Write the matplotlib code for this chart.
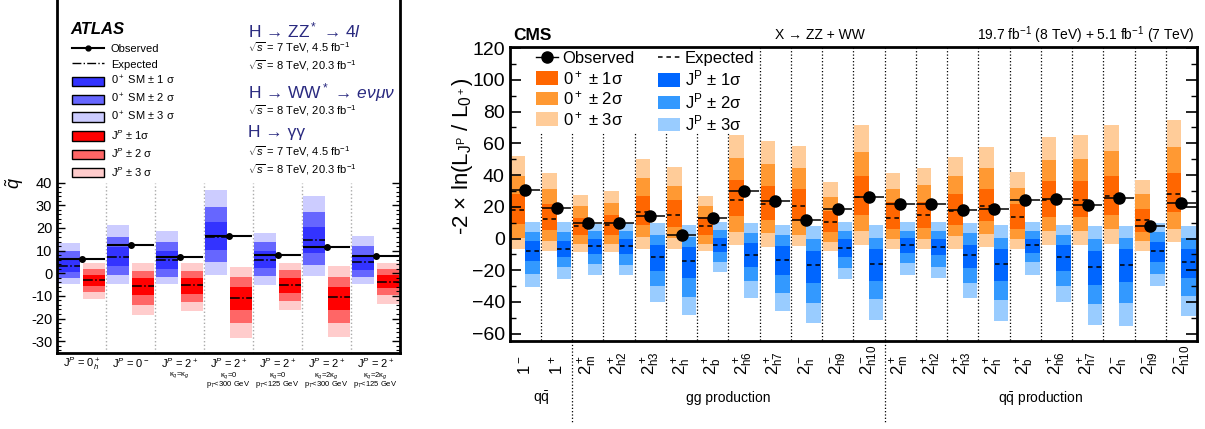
import matplotlib
matplotlib.use('Agg')
import matplotlib.pyplot as plt
import numpy as np
from matplotlib.lines import Line2D
from matplotlib.patches import Patch

plt.rcParams['font.family'] = ['Liberation Sans', 'DejaVu Sans']
plt.rcParams['mathtext.fontset'] = 'custom'
plt.rcParams['mathtext.rm'] = 'Liberation Sans'
plt.rcParams['mathtext.it'] = 'Liberation Sans:italic'
plt.rcParams['mathtext.bf'] = 'Liberation Sans:bold'

# ---------------- ATLAS data ----------------
atlas_labels = [r'J$^P$ = 0$^+_h$', r'J$^P$ = 0$^-$', r'J$^P$ = 2$^+$', r'J$^P$ = 2$^+$',
                r'J$^P$ = 2$^+$', r'J$^P$ = 2$^+$', r'J$^P$ = 2$^+$']
atlas_sub1 = ['', '', r'κ$_q$=κ$_g$', r'κ$_q$=0', r'κ$_q$=0', r'κ$_q$=2κ$_g$', r'κ$_q$=2κ$_g$']
atlas_sub2 = ['', '', '', r'p$_T$<300 GeV', r'p$_T$<125 GeV', r'p$_T$<300 GeV', r'p$_T$<125 GeV']

# SM (0+) bands: 3lo, 2lo, 1lo, 1hi, 2hi, 3hi
sm_3lo = [-4.7, -4.7, -4.6, -0.7, -5.1, -1.2, -4.6]
sm_2lo = [-2.1, -0.7, -1.6, 5.0, -1.2, 3.7, -1.6]
sm_1lo = [0.7, 3.2, 1.9, 10.3, 2.4, 9.0, 1.5]
sm_1hi = [6.6, 11.5, 10.0, 22.4, 9.9, 20.4, 8.1]
sm_2hi = [9.9, 16.0, 13.8, 29.3, 13.8, 27.1, 12.1]
sm_3hi = [13.4, 21.3, 18.7, 36.8, 17.8, 34.1, 16.5]
sm_exp = [3.3, 7.2, 5.9, 16.2, 5.9, 14.6, 4.9]
# alternative JP bands
jp_3lo = [-11.3, -18.4, -16.5, -28.4, -16.2, -28.1, -13.5]
jp_2lo = [-8.4, -14.0, -12.8, -21.9, -12.2, -21.9, -9.6]
jp_1lo = [-5.6, -9.6, -9.1, -16.2, -8.7, -16.2, -6.5]
jp_1hi = [-0.7, -1.9, -1.9, -6.0, -2.1, -6.0, -0.7]
jp_2hi = [1.8, 1.0, 1.0, -1.6, 1.5, -1.6, 1.9]
jp_3hi = [4.6, 4.6, 4.6, 2.8, 4.6, 3.2, 4.6]
jp_exp = [-2.8, -5.7, -5.3, -10.9, -5.0, -10.7, -3.7]
atlas_obs = [6.3, 12.4, 7.1, 16.5, 8.1, 11.5, 7.8]

# ---------------- CMS data ----------------
cms_labels = [r'$1^-$', r'$1^+$',
              r'$2^+_\mathrm{m}$', r'$2^+_\mathrm{h2}$', r'$2^+_\mathrm{h3}$', r'$2^+_\mathrm{h}$',
              r'$2^+_\mathrm{b}$', r'$2^+_\mathrm{h6}$', r'$2^+_\mathrm{h7}$', r'$2^-_\mathrm{h}$',
              r'$2^-_\mathrm{h9}$', r'$2^-_\mathrm{h10}$',
              r'$2^+_\mathrm{m}$', r'$2^+_\mathrm{h2}$', r'$2^+_\mathrm{h3}$', r'$2^+_\mathrm{h}$',
              r'$2^+_\mathrm{b}$', r'$2^+_\mathrm{h6}$', r'$2^+_\mathrm{h7}$', r'$2^-_\mathrm{h}$',
              r'$2^-_\mathrm{h9}$', r'$2^-_\mathrm{h10}$']
o_3lo = [-6.5, -8.0, -8.6, -8.6, -6.7, -6.5, -8.0, -4.2, -5.5, -4.8, -8.0, -3.8,
         -6.9, -6.9, -6.9, -5.5, -6.9, -4.2, -4.2, -3.2, -8.0, -2.5]
o_2lo = [0.4, -1.7, -3.2, -3.2, 0.8, 0.4, -3.4, 4.4, 3.2, 2.5, -2.3, 5.0,
         0.0, 0.0, 1.3, 2.9, 0.0, 4.6, 4.6, 5.7, -1.7, 6.3]
o_1lo = [9.3, 5.3, 1.9, 2.5, 8.8, 7.4, 2.1, 13.9, 11.4, 10.9, 3.8, 15.1,
         6.3, 6.9, 8.8, 10.9, 6.1, 13.5, 13.5, 15.1, 4.2, 16.4]
o_1hi = [27.8, 21.5, 13.0, 15.1, 26.5, 24.0, 13.5, 36.6, 33.4, 31.5, 17.2, 39.7,
         23.1, 23.1, 27.8, 31.5, 22.0, 36.0, 36.0, 39.7, 18.9, 41.6]
o_2hi = [39.3, 30.9, 20.2, 22.1, 38.1, 33.4, 20.4, 50.7, 46.7, 44.2, 25.9, 54.3,
         30.9, 33.6, 39.1, 44.2, 32.0, 49.2, 49.8, 54.9, 27.8, 57.4]
o_3hi = [51.7, 41.6, 27.3, 29.7, 49.8, 45.0, 27.1, 65.0, 61.2, 58.0, 35.3, 71.3,
         41.0, 44.2, 51.1, 57.4, 42.0, 63.7, 65.0, 71.3, 36.6, 74.4]
o_exp = [17.9, 12.6, 7.6, 8.8, 16.8, 15.1, 7.6, 24.4, 21.9, 20.4, 10.7, 26.3,
         13.0, 15.1, 17.5, 20.8, 13.8, 24.0, 24.0, 26.7, 11.4, 28.2]
b_3lo = [-30.7, -25.7, -22.7, -23.3, -40.2, -48.4, -21.2, -37.6, -45.8, -53.4, -25.7, -51.1,
         -23.1, -25.0, -37.6, -52.2, -23.3, -40.2, -54.3, -54.9, -29.7, -48.6]
b_2lo = [-22.1, -18.1, -15.8, -16.4, -29.7, -36.6, -14.9, -26.9, -34.1, -40.6, -18.5, -37.9,
         -15.6, -17.7, -28.0, -38.9, -14.9, -29.7, -41.0, -40.4, -22.1, -36.0]
b_1lo = [-14.3, -11.8, -10.0, -10.0, -20.2, -24.8, -8.6, -18.1, -23.3, -27.8, -11.8, -26.5,
         -9.0, -10.7, -18.9, -26.9, -9.0, -20.2, -29.0, -27.5, -14.5, -25.2]
b_1hi = [-1.7, -1.7, 0.0, 0.0, -3.8, -5.5, 0.4, -2.9, -5.0, -8.0, -0.6, -6.9,
         0.4, -0.2, -3.8, -6.9, 0.0, -4.4, -8.0, -6.9, -1.9, -6.9]
b_2hi = [4.0, 4.0, 4.8, 5.0, 2.5, 0.8, 5.3, 3.4, 1.9, 0.0, 4.6, 0.6,
         4.6, 4.6, 3.2, 0.6, 5.0, 1.9, 0.0, 0.6, 3.8, 0.6]
b_3hi = [10.3, 10.3, 9.0, 9.9, 9.5, 8.2, 10.3, 9.5, 8.8, 7.6, 10.5, 8.2,
         10.3, 10.3, 9.5, 8.2, 10.3, 8.8, 7.6, 7.6, 9.9, 7.6]
b_exp = [-7.6, -6.3, -4.5, -4.8, -11.6, -14.3, -4.0, -10.1, -13.5, -16.8, -5.9, -15.8,
         -3.8, -5.3, -10.7, -16.2, -3.8, -11.8, -17.9, -16.6, -8.0, -15.1]
cms_obs = [30.3, 19.3, 9.9, 9.5, 14.1, 2.1, 12.8, 30.1, 23.6, 11.4, 18.3, 25.9,
           21.5, 21.7, 18.1, 18.7, 24.5, 24.6, 21.0, 25.7, 8.0, 22.5]

W, H = 1205, 429
fig = plt.figure(figsize=(W / 100, H / 100), dpi=100)


def px(x, y):
    return x / W, 1 - y / H


# ================= ATLAS panel =================
ax1 = fig.add_axes([57 / W, 1 - 353 / H, 343 / W, 356 / H])
sm_cols = ['#ccccff', '#6666ff', '#3333ff']
jp_cols = ['#ffcccc', '#ff6666', '#ff0000']
n1 = len(atlas_obs)
x1 = np.arange(n1)
for lo, hi, c in zip([sm_3lo, sm_2lo, sm_1lo], [sm_3hi, sm_2hi, sm_1hi], sm_cols):
    ax1.bar(x1 + 0.02, np.array(hi) - np.array(lo), bottom=lo, width=0.45,
            align='edge', color=c, lw=0, zorder=1)
for lo, hi, c in zip([jp_3lo, jp_2lo, jp_1lo], [jp_3hi, jp_2hi, jp_1hi], jp_cols):
    ax1.bar(x1 + 0.53, np.array(hi) - np.array(lo), bottom=lo, width=0.45,
            align='edge', color=c, lw=0, zorder=1)
ax1.hlines(sm_exp, x1 + 0.02, x1 + 0.47, colors='k', linestyles='-.', lw=1.1, zorder=3)
ax1.hlines(jp_exp, x1 + 0.53, x1 + 0.98, colors='k', linestyles='-.', lw=1.1, zorder=3)
ax1.hlines(atlas_obs, x1 + 0.03, x1 + 0.97, colors='k', lw=1.5, zorder=4)
ax1.plot(x1 + 0.5, atlas_obs, 'o', color='k', ms=4, zorder=5)
ax1.vlines(np.arange(1, n1), -40, 40, colors='#aaaaaa', linestyles=':', lw=1, zorder=0)

ax1.set_xlim(0, n1)
ax1.set_ylim(-35.2, 121.9)
ax1.set_xticks([])
ax1.set_yticks(np.arange(-30, 41, 10))
ax1.set_yticks(np.arange(-34, 41, 2), minor=True)
ax1.tick_params(axis='y', which='both', direction='in', right=True, labelsize=10.5)
ax1.tick_params(axis='y', which='major', length=6, width=1)
ax1.tick_params(axis='y', which='minor', length=3, width=0.8)
for s in ax1.spines.values():
    s.set_linewidth(2)
ax1.yaxis.get_major_ticks()
for t in ax1.get_yticklabels():
    t.set_visible(True)
# hide tick labels above 40
ax1.set_yticklabels([str(v) for v in range(-30, 41, 10)])

for i in range(n1):
    ax1.annotate(atlas_labels[i], xy=(i + 0.5, 0), xycoords=('data', 'axes fraction'),
                 xytext=(0, -7.5), textcoords='offset points', ha='center', va='center', fontsize=8)
    if atlas_sub1[i]:
        ax1.annotate(atlas_sub1[i], xy=(i + 0.5, 0), xycoords=('data', 'axes fraction'),
                     xytext=(0, -16), textcoords='offset points', ha='center', va='center', fontsize=5.5)
    if atlas_sub2[i]:
        ax1.annotate(atlas_sub2[i], xy=(i + 0.5, 0), xycoords=('data', 'axes fraction'),
                     xytext=(0, -23), textcoords='offset points', ha='center', va='center', fontsize=5.5)

fig.text(*px(15, 183), r'$\tilde{q}$', rotation=90, ha='center', va='center', fontsize=13)
fig.text(*px(70, 30), 'ATLAS', fontsize=12, fontweight='bold', fontstyle='italic', va='center')

h_atlas = [Line2D([], [], color='k', lw=1.5, marker='o', ms=3.5),
           Line2D([], [], color='k', lw=1, ls='-.'),
           Patch(facecolor=sm_cols[2], edgecolor='k', lw=1),
           Patch(facecolor=sm_cols[1], edgecolor='k', lw=1),
           Patch(facecolor=sm_cols[0], edgecolor='k', lw=1),
           Patch(facecolor=jp_cols[2], edgecolor='k', lw=1),
           Patch(facecolor=jp_cols[1], edgecolor='k', lw=1),
           Patch(facecolor=jp_cols[0], edgecolor='k', lw=1)]
l_atlas = ['Observed', 'Expected', r'0$^+$ SM ± 1 σ', r'0$^+$ SM ± 2 σ', r'0$^+$ SM ± 3 σ',
           r'J$^P$ ± 1σ', r'J$^P$ ± 2 σ', r'J$^P$ ± 3 σ']
ax1.legend(h_atlas, l_atlas, loc='upper left', bbox_to_anchor=px(72, 44), bbox_transform=fig.transFigure,
           frameon=False, fontsize=8, handlelength=2.9, handleheight=0.9, labelspacing=0.42,
           borderpad=0, borderaxespad=0, handletextpad=0.6)

navy = '#2a2a80'
fig.text(*px(248, 30), r'H → ZZ$^*$ → 4$\mathit{l}$', color=navy, fontsize=12.5, va='center')
fig.text(*px(248, 48), r'$\sqrt{s}$ = 7 TeV, 4.5 fb$^{-1}$', fontsize=8, va='center')
fig.text(*px(248, 66), r'$\sqrt{s}$ = 8 TeV, 20.3 fb$^{-1}$', fontsize=8, va='center')
fig.text(*px(248, 93), r'H → WW$^*$ → $\mathit{e\nu\mu\nu}$', color=navy, fontsize=12.5, va='center')
fig.text(*px(248, 111), r'$\sqrt{s}$ = 8 TeV, 20.3 fb$^{-1}$', fontsize=8, va='center')
fig.text(*px(248, 132), r'H → γγ', color=navy, fontsize=12.5, va='center')
fig.text(*px(248, 152), r'$\sqrt{s}$ = 7 TeV, 4.5 fb$^{-1}$', fontsize=8, va='center')
fig.text(*px(248, 170), r'$\sqrt{s}$ = 8 TeV, 20.3 fb$^{-1}$', fontsize=8, va='center')

# ================= CMS panel =================
ax2 = fig.add_axes([509.7 / W, 1 - 341 / H, 687.3 / W, 294 / H])
o_cols = ['#ffcc99', '#ff9933', '#ff6600']
b_cols = ['#99ccff', '#3399ff', '#0066ff']
n2 = len(cms_obs)
x2 = np.arange(n2)
for lo, hi, c in zip([o_3lo, o_2lo, o_1lo], [o_3hi, o_2hi, o_1hi], o_cols):
    ax2.bar(x2 + 0.03, np.array(hi) - np.array(lo), bottom=lo, width=0.47,
            align='edge', color=c, lw=0, zorder=1)
for lo, hi, c in zip([b_3lo, b_2lo, b_1lo], [b_3hi, b_2hi, b_1hi], b_cols):
    ax2.bar(x2 + 0.5, np.array(hi) - np.array(lo), bottom=lo, width=0.46,
            align='edge', color=c, lw=0, zorder=1)
ax2.hlines(o_exp, x2 + 0.05, x2 + 0.48, colors='k', linestyles=(0, (3, 2.5)), lw=1.1, zorder=3)
ax2.hlines(b_exp, x2 + 0.52, x2 + 0.95, colors='k', linestyles=(0, (3, 2.5)), lw=1.1, zorder=3)
ax2.hlines(cms_obs, x2 + 0.03, x2 + 0.97, colors='k', lw=1.1, zorder=4)
ax2.plot(x2 + 0.5, cms_obs, 'o', color='k', ms=8, zorder=5)

for b in range(1, n2):
    top = 67 if b <= 7 else 125
    ax2.vlines(b, -70, top, colors='k', linestyles=':', lw=0.9, zorder=0)
for b in [2, 12]:
    ax2.plot([b, b], [0, -82 / 294], color='k', ls=':', lw=0.9,
             transform=ax2.get_xaxis_transform(), clip_on=False)

ax2.set_xlim(0, n2)
ax2.set_ylim(-64.6, 120.7)
ax2.set_xticks([])
ax2.set_yticks(np.arange(-60, 121, 20))
ax2.set_yticks(np.arange(-60, 121, 10), minor=True)
ax2.tick_params(axis='y', which='both', direction='in', right=True, labelsize=14)
ax2.tick_params(axis='y', which='major', length=8, width=1.2)
ax2.tick_params(axis='y', which='minor', length=4, width=1)
for s in ax2.spines.values():
    s.set_linewidth(2)

for i in range(n2):
    ax2.annotate(cms_labels[i], xy=(i + 0.5, 0), xycoords=('data', 'axes fraction'),
                 xytext=(0, -24.5), textcoords='offset points', ha='center', va='bottom',
                 rotation=90, fontsize=12)
for xc, txt in [(1.0, r'q$\bar{\mathrm{q}}$'), (7.0, 'gg production'), (17.0, r'q$\bar{\mathrm{q}}$ production')]:
    ax2.annotate(txt, xy=(xc, 0), xycoords=('data', 'axes fraction'), xytext=(0, -41),
                 textcoords='offset points', ha='center', va='center', fontsize=10)

fig.text(*px(462, 156), r'-2 × ln(L$_{\mathrm{J}^\mathrm{P}}$ / L$_{0^+}$)', rotation=90,
         ha='center', va='center', fontsize=16)
fig.text(*px(513, 35), 'CMS', fontsize=12.5, fontweight='bold', va='center')
fig.text(*px(820, 35), 'X → ZZ + WW', fontsize=10, va='center', ha='center')
fig.text(*px(1195, 35), r'19.7 fb$^{-1}$ (8 TeV) + 5.1 fb$^{-1}$ (7 TeV)', fontsize=10,
         va='center', ha='right')

h_cms = [Line2D([], [], color='k', lw=1, marker='o', ms=8),
         Patch(facecolor=o_cols[2], edgecolor='none'),
         Patch(facecolor=o_cols[1], edgecolor='none'),
         Patch(facecolor=o_cols[0], edgecolor='none'),
         Line2D([], [], color='k', lw=1.1, ls=(0, (3, 2.5))),
         Patch(facecolor=b_cols[2], edgecolor='none'),
         Patch(facecolor=b_cols[1], edgecolor='none'),
         Patch(facecolor=b_cols[0], edgecolor='none')]
l_cms = ['Observed', r'0$^+$ ± 1σ', r'0$^+$ ± 2σ', r'0$^+$ ± 3σ',
         'Expected', r'J$^\mathrm{P}$ ± 1σ', r'J$^\mathrm{P}$ ± 2σ', r'J$^\mathrm{P}$ ± 3σ']
ax2.legend(h_cms, l_cms, ncol=2, loc='upper left', bbox_to_anchor=px(536, 51),
           bbox_transform=fig.transFigure, frameon=False, fontsize=12, handlelength=1.3,
           handleheight=0.85, labelspacing=0.15, borderpad=0, borderaxespad=0,
           handletextpad=0.3, columnspacing=1.4)

fig.savefig('out.png', dpi=100)
